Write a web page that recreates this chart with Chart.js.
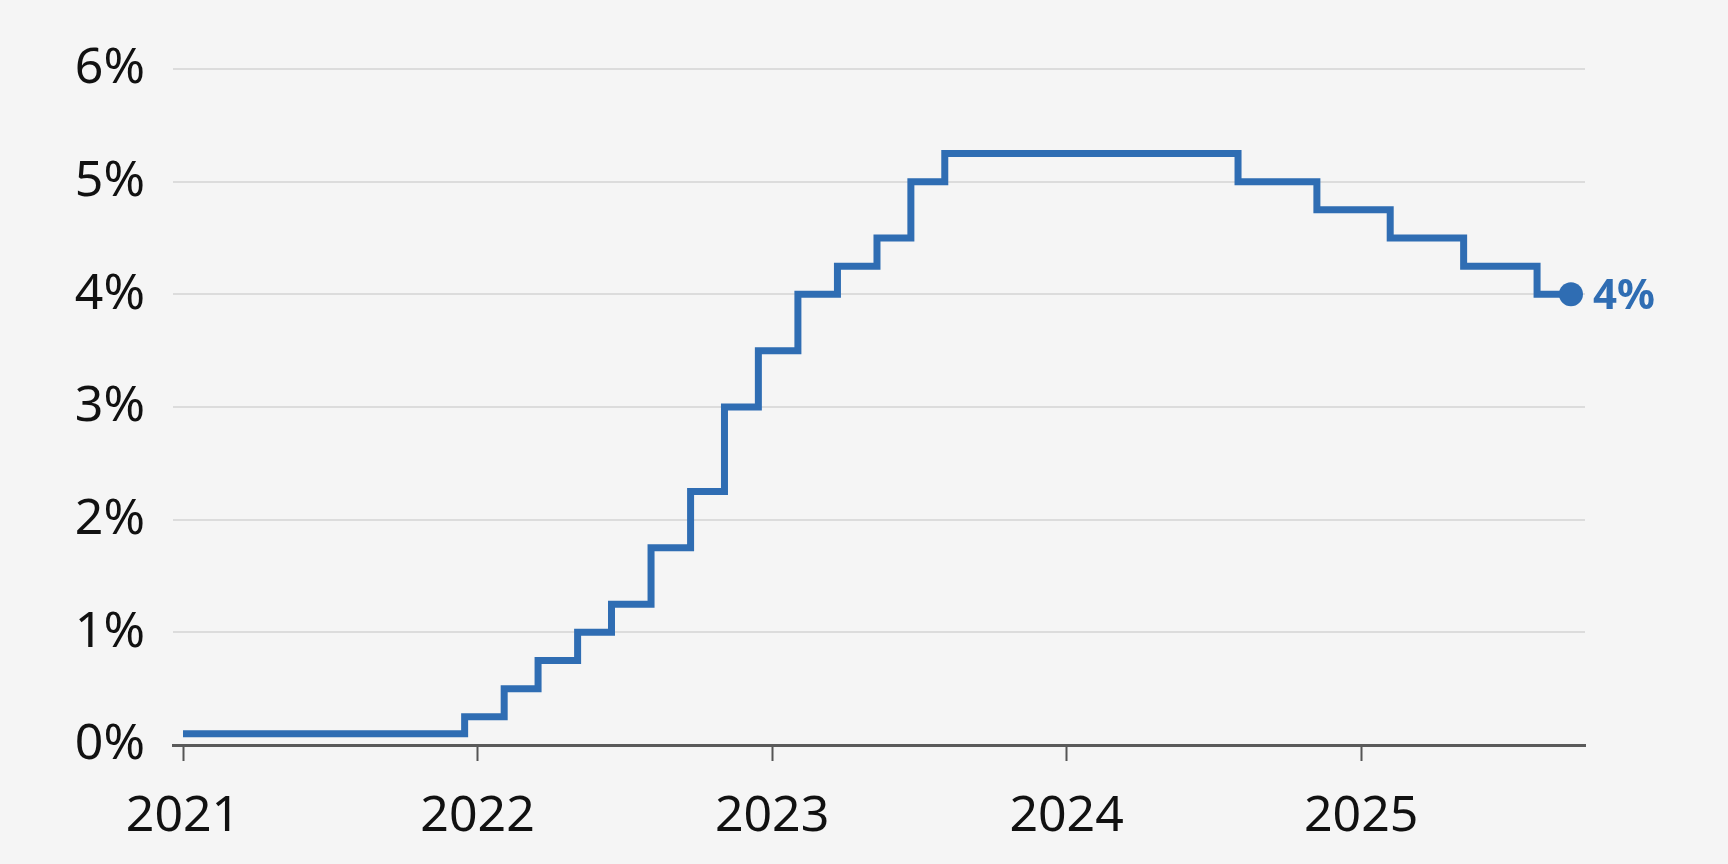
<!DOCTYPE html>
<html>
<head>
<meta charset="utf-8">
<script src="https://cdn.jsdelivr.net/npm/chart.js@4"></script>
<style>
  html, body { margin: 0; padding: 0; background: #f5f5f5; }
  #wrap { width: 1728px; height: 864px; }
</style>
</head>
<body>
<div id="wrap"><canvas id="rate"></canvas></div>
<script>
// rate changes: date the new rate took effect, and the rate in %
const changeDates = [
  '2021-01-01', '2021-12-16', '2022-02-03', '2022-03-17', '2022-05-05', '2022-06-16',
  '2022-08-04', '2022-09-22', '2022-11-03', '2022-12-15', '2023-02-02', '2023-03-23',
  '2023-05-11', '2023-06-22', '2023-08-03', '2024-08-01', '2024-11-07', '2025-02-06',
  '2025-05-08', '2025-08-07', '2025-09-18'
];
const rates = [
  0.1, 0.25, 0.5, 0.75, 1, 1.25,
  1.75, 2.25, 3, 3.5, 4, 4.25,
  4.5, 5, 5.25, 5, 4.75, 4.5,
  4.25, 4, 4
];
const yearTicks = [2021, 2022, 2023, 2024, 2025];
const pctTicks = [0, 1, 2, 3, 4, 5, 6];

const blue = '#2f6db3';

function toYear(s) {
  const d = new Date(s + 'T00:00:00Z');
  const y = d.getUTCFullYear();
  const start = Date.UTC(y, 0, 1), end = Date.UTC(y + 1, 0, 1);
  return y + (d.getTime() - start) / (end - start);
}

const points = changeDates.map((d, i) => ({ x: toYear(d), y: rates[i] }));
const last = points.length - 1;

const endLabel = {
  id: 'endLabel',
  afterDatasetsDraw(chart) {
    const el = chart.getDatasetMeta(0).data[last];
    const ctx = chart.ctx;
    ctx.save();
    ctx.font = 'bold 42px "Noto Sans"';
    ctx.fillStyle = blue;
    ctx.textAlign = 'left';
    ctx.textBaseline = 'middle';
    ctx.fillText(rates[last] + '%', el.x + 22, el.y + 3);
    ctx.restore();
  }
};

new Chart(document.getElementById('rate'), {
  type: 'line',
  data: {
    datasets: [{
      data: points,
      stepped: 'before',
      borderColor: blue,
      backgroundColor: blue,
      borderWidth: 7,
      borderJoinStyle: 'miter',
      borderCapStyle: 'butt',
      pointRadius: ctx => ctx.dataIndex === last ? 12 : 0,
      pointHoverRadius: 0,
      pointBorderWidth: 0,
      fill: false
    }]
  },
  plugins: [endLabel],
  options: {
    responsive: true,
    maintainAspectRatio: false,
    animation: false,
    layout: { padding: { top: 69, right: 143, bottom: 0, left: 0 } },
    plugins: { legend: { display: false }, tooltip: { enabled: false } },
    scales: {
      x: {
        type: 'linear',
        min: 2020.966,
        max: 2025.76,
        afterBuildTicks: scale => { scale.ticks = yearTicks.map(v => ({ value: v })); },
        afterFit: scale => { scale.height = 119; },
        ticks: {
          color: '#111',
          font: { family: 'Noto Sans', size: 50 },
          padding: 26,
          maxRotation: 0,
          autoSkip: false,
          callback: v => String(v)
        },
        grid: {
          drawOnChartArea: false,
          drawTicks: true,
          tickLength: 16,
          tickWidth: 2,
          tickColor: '#555'
        },
        border: { display: true, color: '#5a5a5a', width: 3 }
      },
      y: {
        min: 0,
        max: 6,
        afterBuildTicks: scale => { scale.ticks = pctTicks.map(v => ({ value: v })); },
        afterFit: scale => { scale.width = 173; },
        ticks: {
          color: '#111',
          font: { family: 'Noto Sans', size: 50 },
          padding: 28,
          callback: v => v + '%'
        },
        grid: { color: '#dcdcdc', lineWidth: 2, drawTicks: false },
        border: { display: false }
      }
    }
  }
});
</script>
</body>
</html>
